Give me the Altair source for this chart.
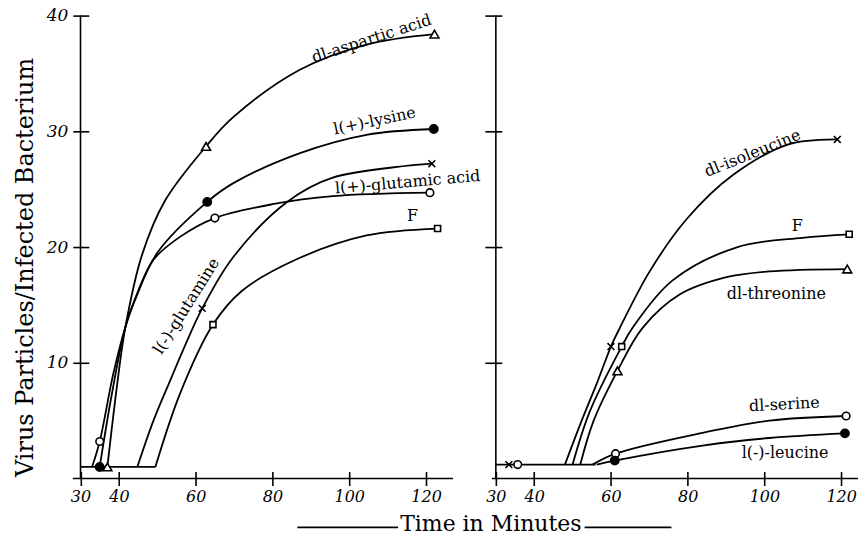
import altair as alt
import pandas as pd

SERIF = "DejaVu Serif"
X_TICKS = [30, 40, 60, 80, 100, 120]
Y_TICKS = [10, 20, 30, 40]
Y_AXIS_AT = 30          # minutes where the vertical axis is drawn

# ---------------- left panel ----------------
L_BASE_T = [30, 49.5]
L_BASE_V = [1, 1]

ASP_T = [37, 39.5, 41.7, 46, 52, 62.7, 69.7, 87, 104.5, 122.2]
ASP_V = [1, 8, 13.1, 19.3, 24, 28.7, 31.2, 35.3, 37.5, 38.4]
LYS_T = [35, 38, 41.7, 44.3, 50, 63, 69.7, 87, 104.5, 122]
LYS_V = [1, 7, 13.1, 15.5, 19.5, 23.9, 25.5, 28.1, 29.7, 30.2]
GLU_T = [33, 35, 38.5, 41.7, 45, 49, 56, 65, 80, 95.7, 121]
GLU_V = [1, 3.2, 9, 13.1, 16.2, 18.9, 20.9, 22.5, 23.7, 24.4, 24.7]
GLN_T = [44.8, 49, 53.4, 57.5, 61.7, 69.7, 83.8, 95.7, 121.5]
GLN_V = [1, 5, 8.5, 11.7, 14.7, 19.1, 23.9, 26.0, 27.2]
FL_T = [49.5, 56, 64.5, 72, 86, 104.5, 123]
FL_V = [1, 7.4, 13.3, 16.2, 18.9, 21.0, 21.6]

ASP_MT = [37, 62.7, 122.2]; ASP_MV = [1, 28.7, 38.4]
LYS_MT = [35, 63, 122];     LYS_MV = [1, 23.9, 30.2]
GLU_MT = [35, 65, 121];     GLU_MV = [3.2, 22.5, 24.7]
GLN_MT = [61.7, 121.5];     GLN_MV = [14.7, 27.2]
FL_MT = [64.5, 123];        FL_MV = [13.3, 21.6]

L_LABELS = ["dl-aspartic acid", "l(+)-lysine", "l(+)-glutamic acid", "F", "l(-)-glutamine"]
L_LAB_T = [105.8, 106.6, 115.2, 116.5, 57.6]
L_LAB_V = [38.0, 30.9, 25.6, 22.7, 14.9]
L_LAB_A = [342, 348, 355, 0, 302]

# ---------------- right panel ----------------
R_BASE_T = [30, 56]
R_BASE_V = [1.2, 1.2]

ILE_T = [48, 52.6, 56.3, 60, 62.3, 70.1, 79.7, 91.7, 106.5, 119]
ILE_V = [1.2, 5.2, 8.2, 11.4, 13.0, 17.9, 22.4, 26.2, 28.9, 29.3]
FR_T = [50, 54.5, 62.8, 65.6, 76, 93, 109.9, 122.1]
FR_V = [1.2, 5.8, 11.4, 13.0, 17.1, 20.0, 20.8, 21.1]
THR_T = [52, 55.5, 61.7, 68.2, 77.9, 90.1, 101.3, 121.6]
THR_V = [1.2, 5, 9.3, 13.0, 15.9, 17.4, 17.9, 18.1]
SER_T = [55.2, 61.2, 83.9, 101.3, 121.3]
SER_V = [1.2, 2.15, 3.95, 5.0, 5.4]
LEU_T = [56.3, 61, 83.9, 101.3, 121]
LEU_V = [1.2, 1.55, 2.85, 3.5, 3.9]

ILE_MT = [33.4, 60, 119];     ILE_MV = [1.2, 11.4, 29.3]
FR_MT = [62.8, 122.1];        FR_MV = [11.4, 21.1]
THR_MT = [61.7, 121.6];       THR_MV = [9.3, 18.1]
SER_MT = [35.7, 61.2, 121.3]; SER_MV = [1.2, 2.15, 5.4]
LEU_MT = [61, 121];           LEU_MV = [1.55, 3.9]

R_LABELS = ["dl-isoleucine", "F", "dl-threonine", "dl-serine", "l(-)-leucine"]
R_LAB_T = [96.9, 108.6, 103.1, 105.2, 105.4]
R_LAB_V = [28.1, 21.8, 15.9, 6.4, 2.2]
R_LAB_A = [338, 0, 0, 357, 0]

MARK_TYPES = ["tri", "dot", "ring", "cross", "sq"]
MARK_SHAPES = ["triangle-up", "circle", "circle", "M-1,-1L1,1M-1,1L1,-1", "square"]
MARK_FILLS = ["white", "black", "white", "white", "white"]
MARK_SIZES = [80, 36, 50, 55, 50]


def lines_df(series):
    rows = []
    for name, (ts, vs) in series.items():
        for t, v in zip(ts, vs):
            rows.append({"series": name, "t": t, "v": v})
    return pd.DataFrame(rows)


def marks_df(series):
    rows = []
    for kind, (ts, vs) in series:
        for t, v in zip(ts, vs):
            rows.append({"kind": kind, "t": t, "v": v})
    return pd.DataFrame(rows)


def panel(curves, markers, labels, xdom, width, ylabels, yoff, ytick, decor=None):
    # x axis: ticks cross the axis line (axis lifted by half the tick length)
    X = alt.X("t:Q", scale=alt.Scale(domain=xdom, nice=False, zero=False),
              axis=alt.Axis(values=X_TICKS, title=None, grid=False, ticks=True,
                            tickSize=14, tickWidth=1.6, tickColor="black", offset=-7,
                            domain=False,
                            labelFont=SERIF, labelFontStyle="italic", labelFontSize=16,
                            labelColor="black", labelPadding=3, labelFlush=False))
    common = dict(values=Y_TICKS, grid=False, ticks=True, tickSize=ytick, tickWidth=1.6,
                  tickColor="black", domain=False, offset=yoff)
    if ylabels:
        yaxis = alt.Axis(labelFont=SERIF, labelFontStyle="italic", labelFontSize=17,
                         labelColor="black", labelPadding=5,
                         title="Virus Particles/Infected Bacterium",
                         titleFont=SERIF, titleFontSize=24, titleFontWeight="normal",
                         titleColor="black", titleX=-40 + yoff, titleY=252, titleAngle=270,
                         titleBaseline="alphabetic", titleAlign="center", **common)
    else:
        yaxis = alt.Axis(labels=False, title=None, **common)
    Y = alt.Y("v:Q", scale=alt.Scale(domain=[0, 40], nice=False, zero=False), axis=yaxis)

    axis_line = alt.Chart(pd.DataFrame({"t": [Y_AXIS_AT], "v": [0], "v2": [40]})).mark_rule(
        color="black", strokeWidth=1.6).encode(x=X, y=Y, y2="v2:Q")
    x_line = alt.Chart(pd.DataFrame({"t": [xdom[0]], "t2": [xdom[1]], "v": [0]})).mark_rule(
        color="black", strokeWidth=1.6).encode(x=X, x2="t2:Q", y=Y)

    ln = alt.Chart(lines_df(curves)).mark_line(
        interpolate="catmull-rom", color="black", strokeWidth=1.8).encode(
        x=X, y=Y, detail="series:N", order="t:Q")

    pts = alt.Chart(marks_df(markers)).mark_point(
        filled=True, stroke="black", strokeWidth=1.6, opacity=1).encode(
        x=X, y=Y,
        shape=alt.Shape("kind:N", scale=alt.Scale(domain=MARK_TYPES, range=MARK_SHAPES), legend=None),
        fill=alt.Fill("kind:N", scale=alt.Scale(domain=MARK_TYPES, range=MARK_FILLS), legend=None),
        size=alt.Size("kind:N", scale=alt.Scale(domain=MARK_TYPES, range=MARK_SIZES), legend=None))

    names, lt, lv, la = labels
    txt = alt.Chart(pd.DataFrame({"name": names, "t": lt, "v": lv, "ang": la})).mark_text(
        font=SERIF, fontSize=16, color="black").encode(
        x=X, y=Y, text="name:N", angle=alt.Angle("ang:Q", scale=None))

    layers = [axis_line, x_line, ln, pts, txt]
    if decor:
        layers += decor
    return alt.layer(*layers).properties(width=width, height=464)


one = pd.DataFrame({"a": [0]})
title_txt = alt.Chart(one).mark_text(font=SERIF, fontSize=22, color="black").encode(
    x=alt.value(419), y=alt.value(510), text=alt.value("Time in Minutes"))
dash1 = alt.Chart(one).mark_rule(color="black", strokeWidth=1.6).encode(
    x=alt.value(225), x2=alt.value(326), y=alt.value(513))
dash2 = alt.Chart(one).mark_rule(color="black", strokeWidth=1.6).encode(
    x=alt.value(513), x2=alt.value(600), y=alt.value(513))

left = panel(
    {"base": (L_BASE_T, L_BASE_V), "asp": (ASP_T, ASP_V), "lys": (LYS_T, LYS_V),
     "glu": (GLU_T, GLU_V), "gln": (GLN_T, GLN_V), "F": (FL_T, FL_V)},
    [("tri", (ASP_MT, ASP_MV)), ("dot", (LYS_MT, LYS_MV)), ("ring", (GLU_MT, GLU_MV)),
     ("cross", (GLN_MT, GLN_MV)), ("sq", (FL_MT, FL_MV))],
    (L_LABELS, L_LAB_T, L_LAB_V, L_LAB_A),
    [28, 127], 381, True, -16, 16, decor=[title_txt, dash1, dash2])

right = panel(
    {"base": (R_BASE_T, R_BASE_V), "ile": (ILE_T, ILE_V), "F": (FR_T, FR_V),
     "thr": (THR_T, THR_V), "ser": (SER_T, SER_V), "leu": (LEU_T, LEU_V)},
    [("cross", (ILE_MT, ILE_MV)), ("sq", (FR_MT, FR_MV)), ("tri", (THR_MT, THR_MV)),
     ("ring", (SER_MT, SER_MV)), ("dot", (LEU_MT, LEU_MV))],
    (R_LABELS, R_LAB_T, R_LAB_V, R_LAB_A),
    [28.96, 124.4], 367, False, -10, 17)

chart = alt.hconcat(left, right, spacing=39, bounds="flush").properties(
    padding={"left": 13, "top": 6, "right": 0, "bottom": 0},
    background="white",
).configure_view(stroke=None)

chart.save("out.html", embed_options={"renderer": "svg", "actions": False})
